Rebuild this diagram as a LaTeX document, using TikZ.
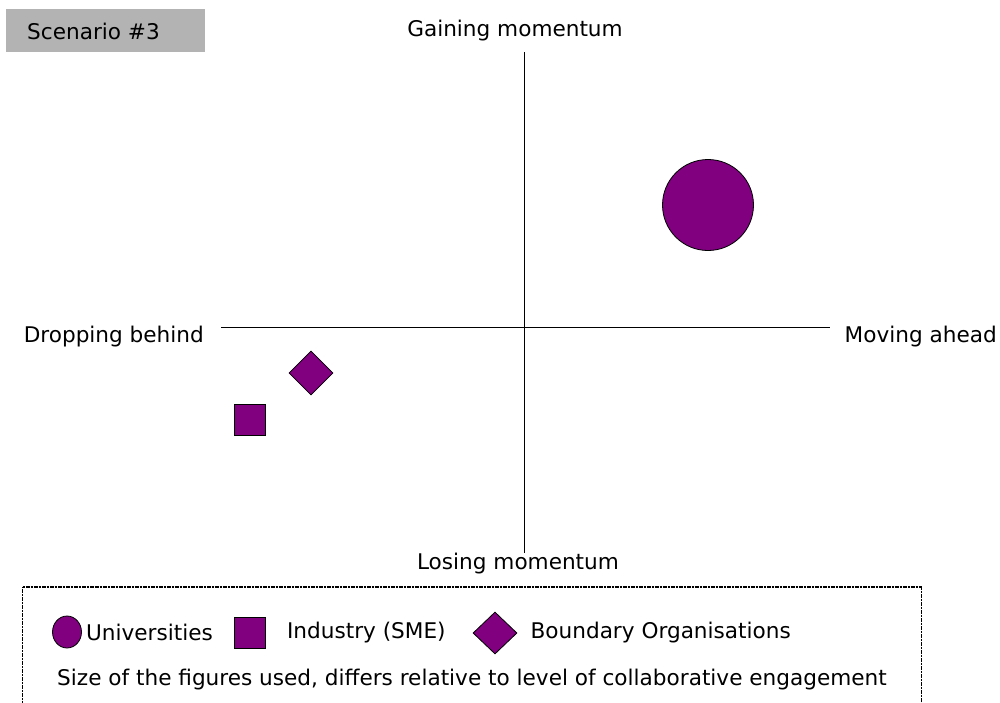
\documentclass[tikz,border=0pt]{standalone}
\usepackage{fontspec}
\setmainfont{DejaVu Sans}
\usetikzlibrary{shapes.geometric,positioning}
\definecolor{orgpurple}{RGB}{128,0,128}
\definecolor{tabgray}{RGB}{179,179,179}

\begin{document}
\begin{tikzpicture}[x=1pt,y=-1pt,inner sep=0pt,
    font=\fontsize{21.6}{26}\selectfont,
    org/.style={draw=black,fill=orgpurple,line width=0.8pt},
    axis/.style={line width=0.9pt},
    frame/.style={dash pattern=on 1.2pt off 0.4pt,line width=1.1pt}]
   \useasboundingbox (0,0) rectangle (1000,702);
   % scenario tab
   \node[fill=tabgray,minimum width=199pt,minimum height=43pt] (tab) at (105.5,30.5) {};
   \node[anchor=west] (tabtext) at (27,31) {Scenario \#3};
   % axes
   \coordinate (top) at (524,52);
   \coordinate (bottom) at (524,553);
   \coordinate (left) at (221,327);
   \coordinate (right) at (830,327);
   \draw[axis] (top) -- (bottom);
   \draw[axis] (left) -- (right);
   \node (gain) at (515,31) {Gaining momentum};
   \node (lose) at (518,564) {Losing momentum};
   \node[anchor=east] (drop) at (204,337) {Dropping behind};
   \node[anchor=east] (ahead) at (997,337) {Moving ahead};
   % actors
   \node[org,circle,minimum size=91pt] (uni) at (708,205) {};
   \node[org,rectangle,minimum size=31pt] (sme) at (250,419.5) {};
   \node[org,diamond,minimum size=44pt] (bo) at (311,373) {};
   % legend
   \coordinate (fl) at (22.5,710);
   \coordinate (fr) at (921.5,710);
   \draw[frame] (fl) |- (921.5,587) -- (fr);
   \node[org,ellipse,minimum width=29pt,minimum height=32pt] (luni) at (67,632) {};
   \node (tuni) [right=4pt of luni] {Universities};
   \node[org,rectangle,minimum size=31pt] (lsme) at (250,632.5) {};
   \node (tsme) [right=21pt of lsme] {Industry (SME)};
   \node[org,diamond,minimum width=44pt,minimum height=42pt] (lbo) at (495,633) {};
   \node (tbo) [right=13pt of lbo] {Boundary Organisations};
   \node (note) at (472,680) {Size of the figures used, differs relative to level of collaborative engagement};
\end{tikzpicture}
\end{document}
